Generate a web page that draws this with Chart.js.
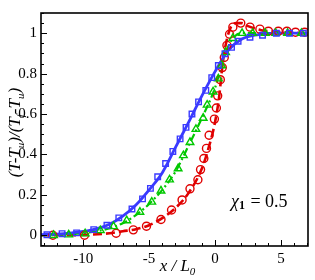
<!DOCTYPE html>
<html><head><meta charset="utf-8">
<script src="https://cdn.jsdelivr.net/npm/chart.js@4"></script>
<style>html,body{margin:0;padding:0;background:#fff}</style>
</head><body>
<canvas id="c" width="315" height="280" style="width:315px;height:280px;display:block"></canvas>
<script>
// ---- axis ticks ----
const xTicks = [-10, -5, 0, 5];
const xTickLabels = ['-10', '-5', '0', '5'];
const yTicks = [0, 0.2, 0.4, 0.6, 0.8, 1];
const yTickLabels = ['0', '0.2', '0.4', '0.6', '0.8', '1'];

// ---- blue (solid line, squares) ----
const blueLineX = [-13.2, -12, -11, -10, -9, -8, -7, -6, -5, -4, -3, -2, -1, 0, 1, 2, 3, 4, 5, 7];
const blueLineY = [0.003, 0.006, 0.011, 0.019, 0.032, 0.055, 0.095, 0.15, 0.225, 0.31, 0.435, 0.56, 0.69, 0.81, 0.915, 0.97, 0.99, 0.998, 1.0, 1.0];
const blueMarkX = [-12.75, -11.6, -10.5, -9.2, -8.2, -7.3, -6.3, -5.5, -4.9, -4.35, -3.75, -3.2, -2.65, -2.2, -1.75, -1.25, -0.7, -0.25, 0.25, 0.75, 1.25, 1.75, 2.65, 3.6, 4.65, 5.65, 6.7];
const blueMarkY = [0.003, 0.008, 0.012, 0.028, 0.05, 0.086, 0.13, 0.18, 0.232, 0.29, 0.355, 0.415, 0.477, 0.534, 0.6, 0.66, 0.717, 0.78, 0.84, 0.898, 0.93, 0.96, 0.98, 0.99, 1.0, 1.0, 1.0];

// ---- green (dash-dot line, triangles) ----
const greenLineX = [-13.2, -12, -10, -9, -8, -7, -6, -5, -4, -3, -2, -1, 0, 0.5, 1, 1.5, 2, 3, 5, 7];
const greenLineY = [0.0, 0.002, 0.01, 0.02, 0.035, 0.06, 0.1, 0.155, 0.225, 0.315, 0.445, 0.58, 0.73, 0.84, 0.935, 0.985, 1.0, 1.0, 1.0, 1.0];
const greenMarkX = [-12.25, -11.1, -9.85, -8.7, -7.7, -6.7, -5.7, -4.8, -4.1, -3.45, -2.8, -2.4, -1.9, -1.45, -0.9, -0.6, -0.15, 0.25, 0.5, 0.8, 1.35, 2.05, 2.85, 3.8, 4.6, 5.5, 6.55];
const greenMarkY = [0.0, 0.003, 0.008, 0.024, 0.044, 0.073, 0.115, 0.165, 0.22, 0.275, 0.33, 0.395, 0.46, 0.525, 0.58, 0.645, 0.71, 0.775, 0.84, 0.905, 0.975, 1.0, 1.0, 1.0, 1.0, 1.0, 1.0];

// ---- red (dashed line, circles) ----
const redLineX = [-13.2, -12, -10, -8, -7, -6, -5, -4, -3, -2, -1, -0.5, 0, 0.3, 0.6, 0.9, 1.2, 1.6, 2.0, 2.5, 3.5, 5, 7];
const redLineY = [0.0, 0.0, 0.002, 0.01, 0.02, 0.03, 0.05, 0.085, 0.135, 0.21, 0.33, 0.43, 0.56, 0.68, 0.86, 0.97, 1.03, 1.05, 1.05, 1.035, 1.015, 1.005, 1.0];
const redMarkX = [-12.3, -9.9, -7.5, -6.2, -5.2, -4.1, -3.3, -2.5, -1.9, -1.3, -1.1, -0.85, -0.65, -0.45, -0.05, 0.1, 0.2, 0.4, 0.55, 0.7, 0.9, 1.1, 1.35, 1.95, 2.65, 3.4, 4.05, 4.8, 5.45, 6.1, 6.8];
const redMarkY = [0.0, 0.0, 0.01, 0.027, 0.045, 0.078, 0.125, 0.175, 0.23, 0.275, 0.325, 0.38, 0.43, 0.495, 0.575, 0.63, 0.69, 0.77, 0.83, 0.88, 0.94, 0.995, 1.03, 1.05, 1.03, 1.02, 1.01, 1.01, 1.01, 1.005, 1.005];

const annotation = { greek: 'χ', sub: '1', rest: ' = 0.5' };

const BLUE = '#3a3aff', GREEN = '#00c800', RED = '#e00000';
const pts = (xs, ys) => xs.map((x, i) => ({ x: x, y: ys[i] }));

function lineDs(xs, ys, color, dash, w) {
  return { type: 'scatter', data: pts(xs, ys), showLine: true, borderColor: color, borderWidth: w,
    borderDash: dash, pointRadius: 0, cubicInterpolationMode: 'monotone', fill: false, order: 2 };
}
function markDs(xs, ys, color, style, r) {
  return { type: 'scatter', data: pts(xs, ys), showLine: false, borderColor: color, backgroundColor: 'rgba(0,0,0,0)',
    pointStyle: style, pointRadius: r, pointBorderWidth: 1.4, pointHoverRadius: r, order: 1 };
}

const SERIF = '"Liberation Serif", "DejaVu Serif", serif';

const decor = {
  id: 'decor',
  afterDraw(chart) {
    const ctx = chart.ctx, a = chart.chartArea, xs = chart.scales.x, ys = chart.scales.y;
    ctx.save();
    ctx.strokeStyle = '#000';
    ctx.lineWidth = 1;
    // minor & major ticks, inside, left and bottom
    ctx.beginPath();
    for (let v = -13; v <= 7; v += 1) {
      const px = Math.round(xs.getPixelForValue(v)) + 0.5;
      if (px <= a.left || px >= a.right) continue;
      const len = (v % 5 === 0) ? 6 : 3;
      ctx.moveTo(px, a.bottom); ctx.lineTo(px, a.bottom - len);
    }
    for (let k = -1; k <= 22; k++) {
      const v = k * 0.05;
      const py = Math.round(ys.getPixelForValue(v)) + 0.5;
      if (py <= a.top || py >= a.bottom) continue;
      const len = (k % 4 === 0) ? 6 : 3;
      ctx.moveTo(a.left, py); ctx.lineTo(a.left + len, py);
    }
    ctx.stroke();
    // frame
    ctx.lineWidth = 1.6;
    ctx.strokeRect(a.left, a.top, a.right - a.left, a.bottom - a.top);

    // annotation
    ctx.fillStyle = '#000';
    ctx.textBaseline = 'alphabetic';
    ctx.textAlign = 'left';
    let x0 = 231, y0 = 207;
    ctx.font = 'italic 18px ' + SERIF;
    ctx.fillText(annotation.greek, x0, y0);
    x0 += ctx.measureText(annotation.greek).width;
    ctx.font = 'bold 12px ' + SERIF;
    ctx.fillText(annotation.sub, x0, y0 + 2);
    x0 += ctx.measureText(annotation.sub).width + 1;
    ctx.font = '18px ' + SERIF;
    ctx.fillText(annotation.rest, x0, y0);

    // x title: x / L0
    const xParts = [['x / L', 'italic 17px ', 0], ['0', 'italic 11px ', 4]];
    let tw = 0;
    xParts.forEach(p => { ctx.font = p[1] + SERIF; tw += ctx.measureText(p[0]).width; });
    let cx = (a.left + a.right) / 2 + 3 - tw / 2;
    xParts.forEach(p => { ctx.font = p[1] + SERIF; ctx.fillText(p[0], cx, 271 + p[2]); cx += ctx.measureText(p[0]).width; });

    // y title: (T-Tu)/(Tf-Tu)
    const yParts = [['(T-T', 'italic 17px ', 0], ['u', 'italic 11px ', 4], [')/(T', 'italic 17px ', 0], ['f', 'italic 11px ', 4], ['-T', 'italic 17px ', 0], ['u', 'italic 11px ', 4], [')', 'italic 17px ', 0]];
    tw = 0;
    yParts.forEach(p => { ctx.font = p[1] + SERIF; tw += ctx.measureText(p[0]).width; });
    ctx.translate(20, (a.top + a.bottom) / 2 + 3);
    ctx.rotate(-Math.PI / 2);
    let cy = -tw / 2;
    yParts.forEach(p => { ctx.font = p[1] + SERIF; ctx.fillText(p[0], cy, 0 + p[2]); cy += ctx.measureText(p[0]).width; });
    ctx.restore();
  }
};

new Chart(document.getElementById('c'), {
  type: 'scatter',
  data: {
    datasets: [
      lineDs(blueLineX, blueLineY, BLUE, [], 2.8),
      lineDs(greenLineX, greenLineY, GREEN, [8, 3, 2, 3], 2.2),
      lineDs(redLineX, redLineY, RED, [9, 4], 2.6),
      markDs(blueMarkX, blueMarkY, BLUE, 'rect', 3.9),
      markDs(greenMarkX, greenMarkY, GREEN, 'triangle', 4.4),
      markDs(redMarkX, redMarkY, RED, 'circle', 4.0)
    ]
  },
  options: {
    responsive: false,
    animation: false,
    layout: { padding: { top: 8, right: 7, left: 0, bottom: 0 } },
    plugins: { legend: { display: false }, tooltip: { enabled: false } },
    scales: {
      x: {
        type: 'linear', min: -13.2, max: 7.05,
        grid: { display: false, drawTicks: false },
        border: { display: false },
        afterBuildTicks: s => { s.ticks = xTicks.map(v => ({ value: v })); },
        afterFit: s => { s.height = 34; },
        ticks: { color: '#000', padding: 4, maxRotation: 0, font: { family: SERIF, size: 15 },
          callback: (v) => { const i = xTicks.indexOf(v); return i >= 0 ? xTickLabels[i] : ''; } }
      },
      y: {
        type: 'linear', min: -0.053, max: 1.1,
        grid: { display: false, drawTicks: false },
        border: { display: false },
        afterBuildTicks: s => { s.ticks = yTicks.map(v => ({ value: v })); },
        afterFit: s => { s.width = 41; },
        ticks: { color: '#000', padding: 4, font: { family: SERIF, size: 15 },
          callback: (v) => { const i = yTicks.findIndex(t => Math.abs(t - v) < 1e-9); return i >= 0 ? yTickLabels[i] : ''; } }
      }
    }
  },
  plugins: [decor]
});
</script>
</body></html>
